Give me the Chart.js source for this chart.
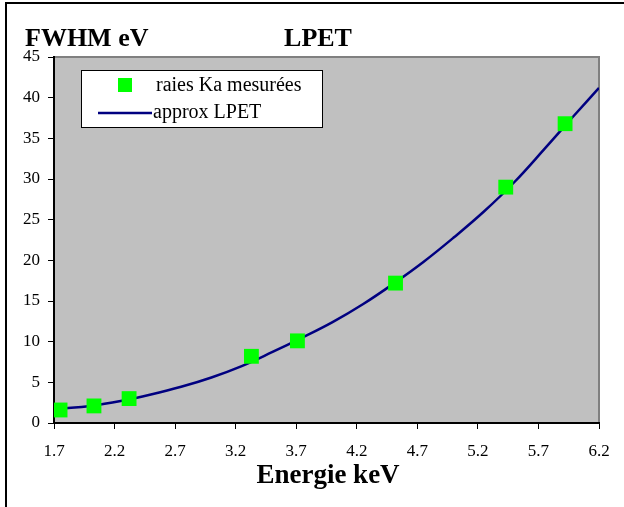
<!DOCTYPE html>
<html>
<head>
<meta charset="utf-8">
<script src="https://cdn.jsdelivr.net/npm/chart.js@4.4.1/dist/chart.umd.min.js"></script>
<style>
  html, body { margin: 0; padding: 0; background: #fff; }
  canvas { display: block; }
</style>
</head>
<body>
<canvas id="chart" width="624" height="507"></canvas>
<script>
// measured lines (Ka)
const energies = [1.75, 2.03, 2.32, 3.33, 3.71, 4.52, 5.43, 5.92];
const fwhm = [1.6, 2.1, 3.0, 8.2, 10.1, 17.2, 29.0, 36.8];

// approx LPET curve
const curveE = [1.75, 2.0, 2.25, 2.5, 2.75, 3.0, 3.25, 3.5, 3.75, 4.0, 4.25, 4.5, 4.75, 5.0, 5.25, 5.5, 5.75, 6.0, 6.2];
const curveV = [1.75, 2.1, 2.7, 3.5, 4.45, 5.6, 7.0, 8.7, 10.5, 12.4, 14.6, 17.1, 19.8, 22.8, 26.0, 29.6, 33.7, 37.9, 41.2];

const xTicks = [1.7, 2.2, 2.7, 3.2, 3.7, 4.2, 4.7, 5.2, 5.7, 6.2];

const FONT = "'Liberation Serif', 'DejaVu Serif', serif";

const decor = {
  id: 'decor',
  beforeDraw(chart) {
    const ctx = chart.ctx;
    const a = chart.chartArea;
    ctx.save();
    ctx.fillStyle = '#fff';
    ctx.fillRect(0, 0, chart.width, chart.height);
    // frame (top + left)
    ctx.fillStyle = '#000';
    ctx.fillRect(5, 2, chart.width - 5, 2);
    ctx.fillRect(5, 2, 2, chart.height - 2);
    // plot area
    ctx.fillStyle = '#c0c0c0';
    ctx.fillRect(a.left, a.top, a.right - a.left, a.bottom - a.top);
    ctx.strokeStyle = '#808080';
    ctx.lineWidth = 2;
    ctx.beginPath();
    ctx.moveTo(a.left, a.top);
    ctx.lineTo(a.right, a.top);
    ctx.lineTo(a.right, a.bottom);
    ctx.stroke();
    ctx.restore();
  },
  afterDraw(chart) {
    const ctx = chart.ctx;
    ctx.save();
    ctx.fillStyle = '#000';
    ctx.textBaseline = 'alphabetic';
    ctx.font = 'bold 26px ' + FONT;
    ctx.textAlign = 'left';
    ctx.fillText('FWHM eV', 25, 46);
    ctx.textAlign = 'center';
    ctx.fillText('LPET', 318, 46);
    ctx.font = 'bold 27px ' + FONT;
    ctx.fillText('Energie keV', 328, 483);

    // legend
    const ds = chart.data.datasets;
    ctx.fillStyle = '#fff';
    ctx.fillRect(81, 70, 242, 58);
    ctx.strokeStyle = '#000';
    ctx.lineWidth = 1;
    ctx.strokeRect(81.5, 70.5, 241, 57);
    ctx.fillStyle = ds[0].backgroundColor;
    ctx.fillRect(118, 78, 14, 14);
    ctx.strokeStyle = ds[1].borderColor;
    ctx.lineWidth = 2.5;
    ctx.beginPath();
    ctx.moveTo(98, 113);
    ctx.lineTo(152, 113);
    ctx.stroke();
    ctx.fillStyle = '#000';
    ctx.font = '20px ' + FONT;
    ctx.textAlign = 'left';
    ctx.textBaseline = 'middle';
    ctx.fillText(ds[0].label, 156, 86);
    ctx.fillText(ds[1].label, 153, 113);
    ctx.restore();
  }
};

new Chart(document.getElementById('chart'), {
  type: 'scatter',
  data: {
    datasets: [{
      label: 'raies Ka mesurées',
      data: energies.map((e, i) => ({ x: e, y: fwhm[i] })),
      backgroundColor: '#00ff00',
      borderWidth: 0,
      pointStyle: 'rect',
      pointRadius: 10.5,
      order: 0
    }, {
      label: 'approx LPET',
      type: 'line',
      data: curveE.map((e, i) => ({ x: e, y: curveV[i] })),
      borderColor: '#000080',
      borderWidth: 2.5,
      pointRadius: 0,
      fill: false,
      tension: 0.4,
      order: 1
    }]
  },
  options: {
    responsive: false,
    animation: false,
    layout: { padding: { top: 57, right: 25, bottom: 0, left: 0 } },
    plugins: {
      legend: { display: false },
      title: { display: false },
      tooltip: { enabled: false }
    },
    scales: {
      x: {
        type: 'linear',
        min: 1.7,
        max: 6.2,
        afterBuildTicks(scale) { scale.ticks = xTicks.map(v => ({ value: v })); },
        afterFit(scale) { scale.height = 84; },
        ticks: {
          color: '#000',
          font: { family: FONT, size: 17 },
          padding: 12,
          maxRotation: 0,
          callback: v => v.toFixed(1)
        },
        grid: { drawOnChartArea: false, color: '#000', tickLength: 6, tickWidth: 1 },
        border: { color: '#000', width: 2 }
      },
      y: {
        min: 0,
        max: 45,
        afterFit(scale) { scale.width = 54; },
        ticks: {
          stepSize: 5,
          color: '#000',
          font: { family: FONT, size: 17 },
          padding: 8
        },
        grid: { drawOnChartArea: false, color: '#000', tickLength: 6, tickWidth: 1 },
        border: { color: '#000', width: 2 }
      }
    }
  },
  plugins: [decor]
});
</script>
</body>
</html>
